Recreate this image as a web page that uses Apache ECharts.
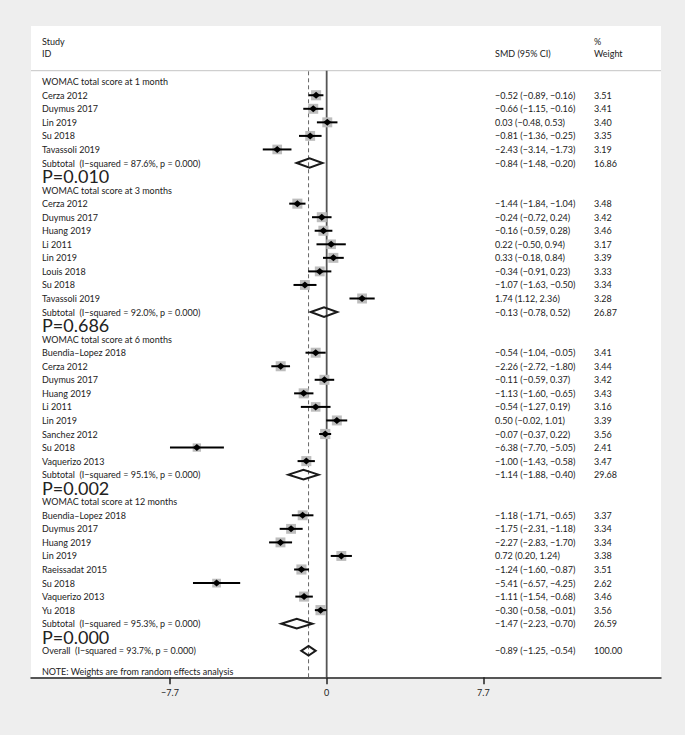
<!DOCTYPE html>
<html>
<head>
<meta charset="utf-8">
<title>Forest plot</title>
<script src="https://cdn.jsdelivr.net/npm/echarts@6.0.0/dist/echarts.min.js"></script>
<style>
  html, body { margin: 0; padding: 0; background: #eeeeee; }
  #chart { width: 685px; height: 735px; }
</style>
</head>
<body>
<div id="chart"></div>
<script>
// rows of the plot, top to bottom
const rowLabels = [
  'WOMAC total score at 1 month',
  'Cerza 2012', 'Duymus 2017', 'Lin 2019', 'Su 2018', 'Tavassoli 2019',
  'Subtotal  (I\u2212squared = 87.6%, p = 0.000)',
  'P=0.010',
  'WOMAC total score at 3 months',
  'Cerza 2012', 'Duymus 2017', 'Huang 2019', 'Li 2011', 'Lin 2019', 'Louis 2018', 'Su 2018', 'Tavassoli 2019',
  'Subtotal  (I\u2212squared = 92.0%, p = 0.000)',
  'P=0.686',
  'WOMAC total score at 6 months',
  'Buendia\u2013Lopez 2018', 'Cerza 2012', 'Duymus 2017', 'Huang 2019', 'Li 2011', 'Lin 2019', 'Sanchez 2012', 'Su 2018', 'Vaquerizo 2013',
  'Subtotal  (I\u2212squared = 95.1%, p = 0.000)',
  'P=0.002',
  'WOMAC total score at 12 months',
  'Buendia\u2013Lopez 2018', 'Duymus 2017', 'Huang 2019', 'Lin 2019', 'Raeissadat 2015', 'Su 2018', 'Vaquerizo 2013', 'Yu 2018',
  'Subtotal  (I\u2212squared = 95.3%, p = 0.000)',
  'P=0.000',
  'Overall  (I\u2212squared = 93.7%, p = 0.000)',
  ''
];
const rowKinds = [
  'head', 'study', 'study', 'study', 'study', 'study', 'pooled', 'p',
  'head', 'study', 'study', 'study', 'study', 'study', 'study', 'study', 'study', 'pooled', 'p',
  'head', 'study', 'study', 'study', 'study', 'study', 'study', 'study', 'study', 'study', 'pooled', 'p',
  'head', 'study', 'study', 'study', 'study', 'study', 'study', 'study', 'study', 'pooled', 'p',
  'pooled', 'blank'
];
const smd = [
  null, -0.52, -0.66, 0.03, -0.81, -2.43, -0.84, null,
  null, -1.44, -0.24, -0.16, 0.22, 0.33, -0.34, -1.07, 1.74, -0.13, null,
  null, -0.54, -2.26, -0.11, -1.13, -0.54, 0.50, -0.07, -6.38, -1.00, -1.14, null,
  null, -1.18, -1.75, -2.27, 0.72, -1.24, -5.41, -1.11, -0.30, -1.47, null,
  -0.89, null
];
const ciLow = [
  null, -0.89, -1.15, -0.48, -1.36, -3.14, -1.48, null,
  null, -1.84, -0.72, -0.59, -0.50, -0.18, -0.91, -1.63, 1.12, -0.78, null,
  null, -1.04, -2.72, -0.59, -1.60, -1.27, -0.02, -0.37, -7.70, -1.43, -1.88, null,
  null, -1.71, -2.31, -2.83, 0.20, -1.60, -6.57, -1.54, -0.58, -2.23, null,
  -1.25, null
];
const ciHigh = [
  null, -0.16, -0.16, 0.53, -0.25, -1.73, -0.20, null,
  null, -1.04, 0.24, 0.28, 0.94, 0.84, 0.23, -0.50, 2.36, 0.52, null,
  null, -0.05, -1.80, 0.37, -0.65, 0.19, 1.01, 0.22, -5.05, -0.58, -0.40, null,
  null, -0.65, -1.18, -1.70, 1.24, -0.87, -4.25, -0.68, -0.01, -0.70, null,
  -0.54, null
];
const weight = [
  null, 3.51, 3.41, 3.40, 3.35, 3.19, 16.86, null,
  null, 3.48, 3.42, 3.46, 3.17, 3.39, 3.33, 3.34, 3.28, 26.87, null,
  null, 3.41, 3.44, 3.42, 3.43, 3.16, 3.39, 3.56, 2.41, 3.47, 29.68, null,
  null, 3.37, 3.34, 3.34, 3.38, 3.51, 2.62, 3.46, 3.56, 26.59, null,
  100.00, null
];
const xTicks = [-7.7, 0, 7.7];
const overallRow = 42;

const FONT = 'Lato';
const FS = 9;
const TEXT = '#222';
const BAND = 13.55;
const ROW0_Y = 81.7;
const PANEL_L = 31, PANEL_R = 661, PANEL_T = 26, AXIS_Y = 677.3, HEAD_Y = 70.7;
const X_MIN = -14.53, X_MAX = 16.43;
const BOX_K = 5.4;

function fmt(v) { return v.toFixed(2).replace('-', '\u2212'); }
const smdLabels = smd.map((v, i) => v === null ? '' : fmt(v) + ' (' + fmt(ciLow[i]) + ', ' + fmt(ciHigh[i]) + ')');
const weightLabels = weight.map(v => v === null ? '' : v.toFixed(2));

const rowData = [];
smd.forEach((v, i) => {
  if (v !== null) rowData.push([ciLow[i], ciHigh[i], v, i, weight[i]]);
});

const gridTop = ROW0_Y - BAND / 2;
const gridHeight = BAND * rowLabels.length;

function renderRow(params, api) {
  const row = api.value(3);
  const lo = api.coord([api.value(0), row]);
  const hi = api.coord([api.value(1), row]);
  const est = api.coord([api.value(2), row]);
  const y = est[1];
  if (rowKinds[row] === 'study') {
    const s = BOX_K * Math.sqrt(api.value(4));
    return {
      type: 'group',
      children: [
        { type: 'rect', shape: { x: est[0] - s / 2, y: y - s / 2, width: s, height: s }, style: { fill: '#bdbdbd' } },
        { type: 'line', shape: { x1: lo[0], y1: y, x2: hi[0], y2: y }, style: { stroke: '#000', lineWidth: 2 } },
        { type: 'polygon', shape: { points: [[est[0] - 4, y], [est[0], y - 3.5], [est[0] + 4, y], [est[0], y + 3.5]] }, style: { fill: '#000' } }
      ]
    };
  }
  return {
    type: 'polygon',
    shape: { points: [[lo[0], y], [est[0], y - 4.8], [hi[0], y], [est[0], y + 4.8]] },
    style: { fill: 'none', stroke: '#1a1a1a', lineWidth: 2 }
  };
}

const chart = echarts.init(document.getElementById('chart'), null, { renderer: 'svg' });

const labelBase = { inside: true, align: 'left', interval: 0, color: TEXT, fontFamily: FONT, fontSize: FS };
const font = FS + 'px ' + FONT;

chart.setOption({
  backgroundColor: '#eeeeee',
  animation: false,
  textStyle: { fontFamily: FONT },
  graphic: [
    { type: 'rect', z: -10, shape: { x: PANEL_L, y: PANEL_T, width: PANEL_R - PANEL_L, height: AXIS_Y - PANEL_T }, style: { fill: '#fff' } },
    { type: 'line', shape: { x1: PANEL_L, y1: HEAD_Y, x2: PANEL_R, y2: HEAD_Y }, style: { stroke: '#c4c4c4', lineWidth: 1 } },
    { type: 'text', x: 42, y: 41.3, style: { text: 'Study', fill: TEXT, font: font, verticalAlign: 'middle' } },
    { type: 'text', x: 42, y: 53.7, style: { text: 'ID', fill: TEXT, font: font, verticalAlign: 'middle' } },
    { type: 'text', x: 495, y: 53.7, style: { text: 'SMD (95% CI)', fill: TEXT, font: font, verticalAlign: 'middle' } },
    { type: 'text', x: 594, y: 41.3, style: { text: '%', fill: TEXT, font: font, verticalAlign: 'middle' } },
    { type: 'text', x: 594, y: 53.7, style: { text: 'Weight', fill: TEXT, font: font, verticalAlign: 'middle' } },
    { type: 'text', x: 42, y: ROW0_Y + BAND * 43.5, style: { text: 'NOTE: Weights are from random effects analysis', fill: TEXT, font: font, verticalAlign: 'middle' } }
  ],
  grid: [
    { left: PANEL_L, right: 685 - PANEL_R, top: gridTop, height: gridHeight, outerBoundsMode: 'none' },
    { left: PANEL_L, right: 685 - PANEL_R, top: HEAD_Y, height: AXIS_Y - HEAD_Y, outerBoundsMode: 'none' }
  ],
  xAxis: [
    {
      type: 'value', gridIndex: 0, min: X_MIN, max: X_MAX,
      position: 'bottom', offset: AXIS_Y - (gridTop + gridHeight),
      splitLine: { show: false },
      axisLine: { show: true, lineStyle: { color: '#222', width: 1.5 } },
      axisTick: { show: true, customValues: xTicks, length: 7, lineStyle: { color: '#222', width: 1.5 } },
      axisLabel: {
        customValues: xTicks, margin: 11, color: TEXT, fontFamily: FONT, fontSize: FS,
        formatter: v => String(v).replace('-', '\u2212')
      }
    },
    { type: 'value', gridIndex: 1, min: X_MIN, max: X_MAX, show: false }
  ],
  yAxis: [
    {
      type: 'category', gridIndex: 0, data: rowLabels, inverse: true, position: 'left',
      axisLine: { show: false }, axisTick: { show: false },
      axisLabel: Object.assign({}, labelBase, {
        margin: 11,
        formatter: (v, i) => rowKinds[i] === 'p' ? '{big|' + v + '}' : v,
        rich: { big: { fontSize: 18, fontFamily: FONT, color: TEXT, lineHeight: 13, padding: [0, 0, 1, 0] } }
      })
    },
    {
      type: 'category', gridIndex: 0, data: smdLabels, inverse: true, position: 'right',
      axisLine: { show: false }, axisTick: { show: false },
      axisLabel: Object.assign({}, labelBase, { margin: PANEL_R - 495 })
    },
    {
      type: 'category', gridIndex: 0, data: weightLabels, inverse: true, position: 'right',
      axisLine: { show: false }, axisTick: { show: false },
      axisLabel: Object.assign({}, labelBase, { margin: PANEL_R - 594 })
    },
    { type: 'value', gridIndex: 1, min: 0, max: 1, show: false }
  ],
  series: [
    {
      type: 'line', xAxisIndex: 1, yAxisIndex: 3, symbol: 'none', silent: true,
      data: [[0, 0], [0, 1]],
      lineStyle: { color: '#555', width: 1.8 }
    },
    {
      type: 'line', xAxisIndex: 1, yAxisIndex: 3, symbol: 'none', silent: true,
      data: [[smd[overallRow], 0], [smd[overallRow], 1]],
      lineStyle: { color: '#666', width: 1, type: [4, 3] }
    },
    {
      type: 'custom', xAxisIndex: 0, yAxisIndex: 0,
      renderItem: renderRow,
      encode: { x: [0, 1, 2], y: 3 },
      data: rowData,
      z: 5
    }
  ]
});
</script>
</body>
</html>
